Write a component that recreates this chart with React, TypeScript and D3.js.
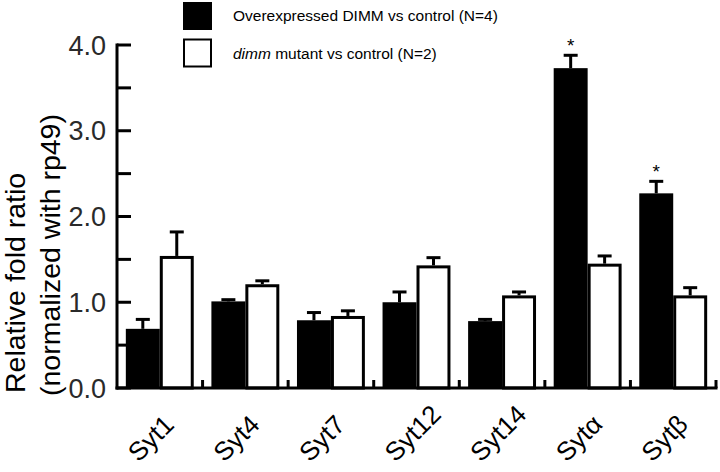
import React from "react";
import * as d3 from "d3";

const categories = ["Syt1", "Syt4", "Syt7", "Syt12", "Syt14", "Sytα", "Sytβ"];
const seriesKeys = ["over", "mutant"];
const overexpressed = [0.69, 1.01, 0.79, 1.0, 0.78, 3.73, 2.27];
const overexpressedErr = [0.11, 0.02, 0.09, 0.12, 0.02, 0.15, 0.14];
const mutant = [1.54, 1.21, 0.84, 1.43, 1.08, 1.45, 1.08];
const mutantErr = [0.28, 0.04, 0.06, 0.09, 0.04, 0.09, 0.09];
const significant = [false, false, false, false, false, true, true];
const yMajorTicks = [0, 1, 2, 3, 4];
const yAllTicks = [0, 0.5, 1, 1.5, 2, 2.5, 3, 3.5, 4];
const legendLabels = ["Overexpressed DIMM vs control (N=4)", "mutant vs control (N=2)"];

const W = 720;
const H = 472;
const left = 117;
const right = 716;
const yZero = 388;
const yTop = 45;
const FONT = "'Liberation Sans', Arial, sans-serif";

export default function App() {
  const x0 = d3.scaleBand<string>().domain(categories).range([left, right]).paddingInner(0).paddingOuter(0);
  const x1 = d3.scaleBand<string>().domain(seriesKeys).range([0, x0.bandwidth()]).paddingInner(0).paddingOuter(0.26);
  const y = d3.scaleLinear().domain([0, 4]).range([yZero, yTop]);
  const bw = x1.bandwidth();

  const bars: React.ReactNode[] = [];
  categories.forEach((c, i) => {
    const xb = (x0(c) as number) + (x1("over") as number);
    const xw = (x0(c) as number) + (x1("mutant") as number);
    const vb = overexpressed[i];
    const vw = mutant[i];
    bars.push(
      <rect key={"b" + i} x={xb} y={y(vb)} width={bw} height={yZero - y(vb)} fill="#000" />
    );
    bars.push(
      <rect key={"w" + i} x={xw + 1.5} y={y(vw) + 1.5} width={bw - 3} height={yZero - y(vw) - 1.5} fill="#fff" stroke="#000" strokeWidth={3} />
    );
    const eb = [
      { cx: xb + bw / 2, v: vb, e: overexpressedErr[i] },
      { cx: xw + bw / 2, v: vw, e: mutantErr[i] },
    ];
    eb.forEach((d, j) => {
      bars.push(
        <g key={"e" + i + "_" + j} stroke="#000" strokeWidth={3}>
          <line x1={d.cx} x2={d.cx} y1={y(d.v)} y2={y(d.v + d.e)} />
          <line x1={d.cx - 7} x2={d.cx + 7} y1={y(d.v + d.e)} y2={y(d.v + d.e)} />
        </g>
      );
    });
    if (significant[i]) {
      bars.push(
        <text key={"s" + i} x={xb + bw / 2} y={y(vb + overexpressedErr[i]) - 3} textAnchor="middle" fontSize={19} fontFamily={FONT} fill="#000">
          *
        </text>
      );
    }
  });

  return (
    <svg width={W} height={H} style={{ position: "absolute", left: 0, top: 0, background: "#fff" }}>
      <rect x={0} y={0} width={W} height={H} fill="#fff" />
      {/* legend */}
      <rect x={183} y={2} width={29} height={28} fill="#000" />
      <rect x={184} y={39.5} width={27} height={27} fill="#fff" stroke="#000" strokeWidth={2} />
      <text x={233} y={20.5} fontSize={15.5} fontFamily={FONT} fill="#000">{legendLabels[0]}</text>
      <text x={233} y={59} fontSize={15.5} fontFamily={FONT} fill="#000">
        <tspan fontStyle="italic">dimm</tspan> {legendLabels[1]}
      </text>

      {bars}

      {/* y axis */}
      <line x1={left} x2={left} y1={yTop - 1.5} y2={yZero + 1.5} stroke="#000" strokeWidth={3} />
      {yAllTicks.map((t) => (
        <line key={"yt" + t} x1={left} x2={left + 14} y1={y(t)} y2={y(t)} stroke="#000" strokeWidth={3} />
      ))}
      {yMajorTicks.map((t) => (
        <text key={"yl" + t} x={106} y={y(t)} dy="0.36em" textAnchor="end" fontSize={27} fontFamily={FONT} fill="#2a2a2a">
          {d3.format(".1f")(t)}
        </text>
      ))}

      {/* x axis */}
      <line x1={left - 1.5} x2={right + 1.5} y1={yZero} y2={yZero} stroke="#000" strokeWidth={3} />
      {categories.map((c) => (
        <line key={"xt" + c} x1={(x0(c) as number) + x0.bandwidth()} x2={(x0(c) as number) + x0.bandwidth()} y1={yZero} y2={yZero - 8} stroke="#000" strokeWidth={3} />
      ))}
      {categories.map((c) => {
        const cx = (x0(c) as number) + x0.bandwidth() / 2;
        return (
          <text key={"xl" + c} transform={`translate(${cx - 21},${yZero + 75}) rotate(-45)`} textAnchor="start" fontSize={26} fontFamily={FONT} fill="#000">
            {c}
          </text>
        );
      })}

      {/* y axis title */}
      <text transform={`translate(25,393) rotate(-90)`} textAnchor="start" fontSize={28.5} fontFamily={FONT} fill="#000">
        Relative fold ratio
      </text>
      <text transform={`translate(60,396) rotate(-90)`} textAnchor="start" fontSize={28.5} fontFamily={FONT} fill="#000">
        (normalized with rp49)
      </text>
    </svg>
  );
}
